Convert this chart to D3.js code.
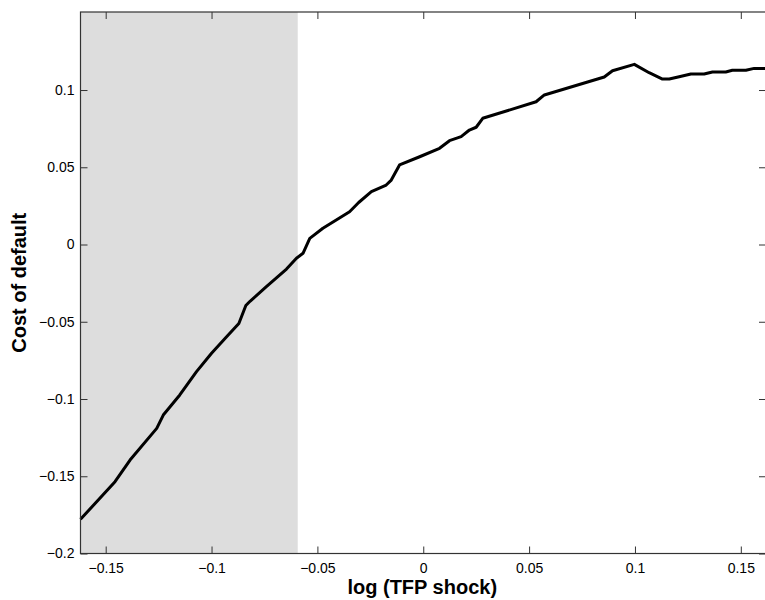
<!DOCTYPE html>
<html>
<head>
<meta charset="utf-8">
<script src="https://cdn.jsdelivr.net/npm/d3@7"></script>
<style>
  body { margin: 0; background: #fff; }
  svg { display: block; font-family: "Liberation Sans", Arial, Helvetica, sans-serif; }
</style>
</head>
<body>
<div id="chart"></div>
<script>
// shock values (log TFP) and the cost of default
var tfpShock = [-0.1619, -0.1456, -0.1385, -0.1259, -0.1228, -0.1150, -0.1071, -0.1000,
                -0.0930, -0.0871, -0.0838, -0.0817, -0.0741, -0.0646, -0.0599, -0.0568,
                -0.0536, -0.0474, -0.0348, -0.0305, -0.0245, -0.0175, -0.0151, -0.0112,
                -0.0017, 0.0077, 0.0124, 0.0179, 0.0218, 0.0250, 0.0281, 0.0533,
                0.0572, 0.0855, 0.0894, 0.0997, 0.1067, 0.1130, 0.1162, 0.1209,
                0.1264, 0.1327, 0.1366, 0.1429, 0.1460, 0.1524, 0.1563, 0.1615];
var costDefault = [-0.1779, -0.1535, -0.1395, -0.1190, -0.1104, -0.0974, -0.0823, -0.0704,
                   -0.0599, -0.0511, -0.0395, -0.0366, -0.0273, -0.0159, -0.0089, -0.0057,
                   0.0040, 0.0105, 0.0212, 0.0272, 0.0342, 0.0385, 0.0417, 0.0515,
                   0.0568, 0.0623, 0.0672, 0.0698, 0.0741, 0.0759, 0.0817, 0.0924,
                   0.0968, 0.1084, 0.1125, 0.1166, 0.1112, 0.1071, 0.1071, 0.1086,
                   0.1104, 0.1104, 0.1117, 0.1117, 0.1128, 0.1128, 0.1140, 0.1140];

var xTicks = [-0.15, -0.1, -0.05, 0, 0.05, 0.1, 0.15];
var yTicks = [-0.2, -0.15, -0.1, -0.05, 0, 0.05, 0.1];
var xDomain = [-0.1619, 0.1619];
var yDomain = [-0.2, 0.1505];
var shadeEnd = -0.0593; // shaded region runs from the left edge to here

var width = 765, height = 600;
var mLeft = 80.5, mRight = 766, mTop = 12, mBottom = 553.5;

var svg = d3.select("#chart").append("svg")
    .attr("width", width)
    .attr("height", height);

var x = d3.scaleLinear().domain(xDomain).range([mLeft, mRight]);
var y = d3.scaleLinear().domain(yDomain).range([mBottom, mTop]);

// grey band
svg.append("rect")
    .attr("x", x(xDomain[0]))
    .attr("y", mTop)
    .attr("width", x(shadeEnd) - x(xDomain[0]))
    .attr("height", mBottom - mTop)
    .attr("fill", "#dddddd");

// curve
var line = d3.line()
    .x(function(d) { return x(d[0]); })
    .y(function(d) { return y(d[1]); });

svg.append("path")
    .datum(d3.zip(tfpShock, costDefault))
    .attr("fill", "none")
    .attr("stroke", "#000")
    .attr("stroke-width", 3)
    .attr("stroke-linejoin", "round")
    .attr("d", line);

// axes, matlab style: ticks pointing inwards on all four sides
var fmt = function(d) { return d === 0 ? "0" : d3.format("")(d).replace("-", "\u2212"); };
var tickLen = 7;

var axisBottom = d3.axisBottom(x).tickValues(xTicks).tickSize(-tickLen).tickPadding(10).tickFormat(fmt);
var axisTop = d3.axisTop(x).tickValues(xTicks).tickSize(-tickLen).tickFormat("");
var axisLeft = d3.axisLeft(y).tickValues(yTicks).tickSize(-tickLen).tickPadding(6).tickFormat(fmt);
var axisRight = d3.axisRight(y).tickValues(yTicks).tickSize(-tickLen).tickFormat("");

function styleAxis(g) {
    g.select(".domain").remove();
    g.selectAll(".tick line").attr("stroke", "#333");
    g.selectAll(".tick text").attr("fill", "#000").style("font-size", "14px");
}

svg.append("g").attr("transform", "translate(0," + mBottom + ")").call(axisBottom).call(styleAxis);
svg.append("g").attr("transform", "translate(0," + mTop + ")").call(axisTop).call(styleAxis);
svg.append("g").attr("transform", "translate(" + mLeft + ",0)").call(axisLeft).call(styleAxis);
svg.append("g").attr("transform", "translate(" + mRight + ",0)").call(axisRight).call(styleAxis);

// box
svg.append("rect")
    .attr("x", mLeft).attr("y", mTop)
    .attr("width", mRight - mLeft).attr("height", mBottom - mTop)
    .attr("fill", "none")
    .attr("stroke", "#333")
    .attr("stroke-width", 1.2);

// axis titles
svg.append("text")
    .attr("x", (mLeft + mRight) / 2 - 1)
    .attr("y", 594)
    .attr("text-anchor", "middle")
    .style("font-size", "20px")
    .style("font-weight", "bold")
    .text("log (TFP shock)");

svg.append("text")
    .attr("transform", "translate(26," + ((mTop + mBottom) / 2) + ") rotate(-90)")
    .attr("text-anchor", "middle")
    .style("font-size", "20px")
    .style("font-weight", "bold")
    .text("Cost of default");
</script>
</body>
</html>
